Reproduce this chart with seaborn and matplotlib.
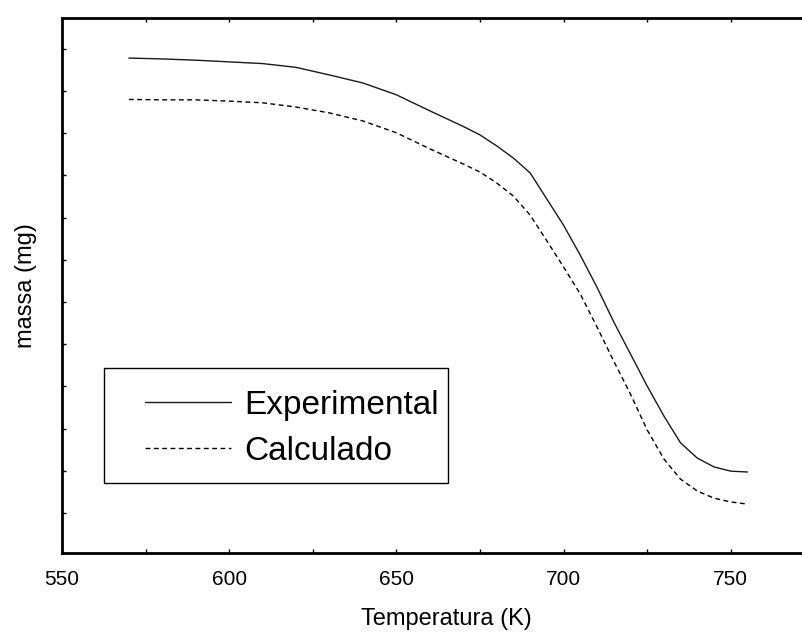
import matplotlib
matplotlib.use("Agg")
import matplotlib.pyplot as plt
import seaborn as sns
import pandas as pd
from matplotlib.patches import Rectangle
from matplotlib.lines import Line2D
from matplotlib.ticker import MultipleLocator, NullFormatter

temperatura = [570, 580, 590, 600, 610, 620, 630, 640, 650, 660, 670, 675, 680, 685,
               690, 695, 700, 705, 710, 715, 720, 725, 730, 735, 740, 745, 750, 755]
experimental = [11.78, 11.76, 11.73, 11.69, 11.65, 11.56, 11.38, 11.19, 10.91, 10.53,
                10.16, 9.96, 9.70, 9.41, 9.06, 8.44, 7.82, 7.11, 6.35, 5.53, 4.77,
                4.01, 3.30, 2.66, 2.30, 2.09, 1.99, 1.97]
calculado = [10.80, 10.79, 10.79, 10.76, 10.72, 10.62, 10.48, 10.29, 10.01, 9.63,
             9.27, 9.08, 8.82, 8.51, 8.06, 7.45, 6.83, 6.19, 5.41, 4.60, 3.82,
             2.97, 2.28, 1.80, 1.52, 1.35, 1.26, 1.21]
series_names = ["Experimental", "Calculado"]
xtick_values = [550, 600, 650, 700, 750]

df = pd.concat([
    pd.DataFrame({"T": temperatura, "m": experimental, "serie": series_names[0]}),
    pd.DataFrame({"T": temperatura, "m": calculado, "serie": series_names[1]}),
])

sns.set_theme(style="white")
plt.rcParams["font.family"] = ["Liberation Sans", "DejaVu Sans"]
plt.rcParams["text.color"] = "black"
plt.rcParams["axes.labelcolor"] = "black"

W, H = 803, 634
fig = plt.figure(figsize=(W / 100, H / 100), dpi=100)
x0, x1 = 62, 831
y0, y1 = 18, 553
ax = fig.add_axes([x0 / W, 1 - y1 / H, (x1 - x0) / W, (y1 - y0) / H])

sns.lineplot(data=df, x="T", y="m", style="serie", hue="serie",
             palette={"Experimental": "#1a1a1a", "Calculado": "black"},
             dashes={"Experimental": "", "Calculado": (3.5, 2.5)},
             linewidth=1.0, ax=ax, legend=False, sort=False)

ax.set_xlim(550, 780)
ax.set_ylim(0.05, 12.73)
ax.set_xticks(xtick_values)
ax.xaxis.set_minor_locator(MultipleLocator(25))
ax.set_yticks(range(1, 13))
ax.yaxis.set_major_formatter(NullFormatter())
ax.tick_params(axis="x", which="both", direction="in", length=3, width=1,
               top=True, bottom=True, labelsize=15, pad=12, colors="black")
ax.tick_params(axis="y", which="both", direction="in", length=3, width=1,
               left=True, labelleft=False, colors="black")
for s in ax.spines.values():
    s.set_color("black")
    s.set_linewidth(2)

ax.set_xlabel("Temperatura (K)", fontsize=17, labelpad=14, color="black")
ax.set_ylabel("massa (mg)", fontsize=17, labelpad=18, color="black")

handles = [Line2D([], [], color="#1a1a1a", lw=1.0),
           Line2D([], [], color="black", lw=1.0, dashes=(3.5, 2.5))]
leg = fig.legend(handles, series_names, loc="upper left",
                 bbox_to_anchor=(118 / W, 1 - 363 / H), frameon=False,
                 fontsize=24, handlelength=2.6, handletextpad=0.4,
                 labelspacing=0.45, borderpad=0.3)
for t in leg.get_texts():
    t.set_color("black")
fig.add_artist(Rectangle((104 / W, 1 - 483 / H), (448 - 104) / W, (483 - 368) / H,
                         transform=fig.transFigure, fill=False,
                         edgecolor="black", linewidth=1.0))

fig.savefig("out.png", dpi=100)
